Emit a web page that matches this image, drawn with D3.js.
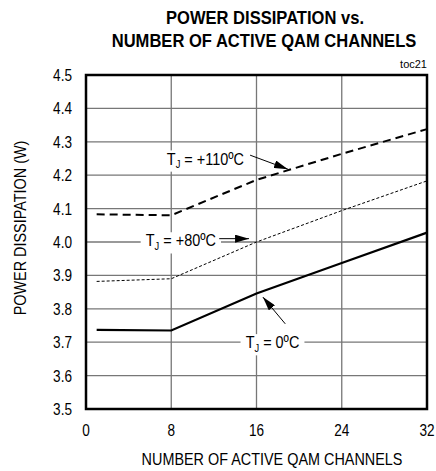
<!DOCTYPE html>
<html>
<head>
<meta charset="utf-8">
<script src="https://cdn.jsdelivr.net/npm/d3@7"></script>
<style>
  body { margin: 0; background: #fff; }
  text { font-family: "Liberation Sans", Arial, sans-serif; fill: #000; }
</style>
</head>
<body>
<div id="chart"></div>
<script>
// channel counts
const channels = [1, 8, 16, 24, 32];
const pd110 = [4.083, 4.08, 4.186, 4.264, 4.338];
const pd80 = [3.882, 3.89, 4.0, 4.094, 4.183];
const pd0 = [3.737, 3.735, 3.846, 3.937, 4.028];

const xTicks = [0, 8, 16, 24, 32];
const yTicks = [3.5, 3.6, 3.7, 3.8, 3.9, 4.0, 4.1, 4.2, 4.3, 4.4, 4.5];

const width = 436, height = 471;
const margin = {top: 75, right: 9, bottom: 62, left: 86};
const w = width - margin.left - margin.right;
const h = height - margin.top - margin.bottom;

const svg = d3.select("#chart").append("svg")
    .attr("width", width)
    .attr("height", height);

const g = svg.append("g")
    .attr("transform", `translate(${margin.left},${margin.top})`);

const x = d3.scaleLinear().domain([0, 32]).range([0, w]);
const y = d3.scaleLinear().domain([3.5, 4.5]).range([h, 0]);

// grid
g.selectAll(".hgrid").data(yTicks.slice(1, -1)).enter().append("line")
    .attr("x1", 0).attr("x2", w)
    .attr("y1", d => y(d)).attr("y2", d => y(d))
    .attr("stroke", "#777").attr("stroke-width", 1.3);
g.selectAll(".vgrid").data(xTicks.slice(1, -1)).enter().append("line")
    .attr("y1", 0).attr("y2", h)
    .attr("x1", d => x(d)).attr("x2", d => x(d))
    .attr("stroke", "#777").attr("stroke-width", 1.3);

// tick labels (narrow look: squeeze horizontally)
g.selectAll(".ylab").data(yTicks).enter().append("text")
    .attr("transform", d => `translate(-14,${y(d) + 6}) scale(0.85,1)`)
    .attr("text-anchor", "end")
    .style("font-size", "16px")
    .text(d => d.toFixed(1));
g.selectAll(".xlab").data(xTicks).enter().append("text")
    .attr("transform", d => `translate(${x(d)},${h + 27}) scale(0.85,1)`)
    .attr("text-anchor", "middle")
    .style("font-size", "16px")
    .text(d => d);

// labels with white boxes (drawn before curves)
function label(cx, cy, main) {
    const lg = g.append("g")
        .attr("transform", `translate(${cx},${cy}) scale(0.85,1)`);
    const t = lg.append("text")
        .attr("x", 0).attr("y", 6)
        .attr("text-anchor", "middle")
        .style("font-size", "17px");
    t.append("tspan").text("T");
    t.append("tspan").attr("dy", 4).style("font-size", "11px").text("J");
    t.append("tspan").attr("dy", -4).text(" = " + main);
    const bb = t.node().getBBox();
    lg.insert("rect", "text")
        .attr("x", bb.x - 6).attr("y", bb.y + 1)
        .attr("width", bb.width + 12).attr("height", bb.height)
        .attr("fill", "#fff");
}

label(x(11.2), y(4.25), "+110ºC");
label(x(8.9), y(4.005), "+80ºC");
label(x(17.5), y(3.7), "0ºC");

// arrow head
svg.append("defs").append("marker")
    .attr("id", "ah").attr("viewBox", "0 0 14 8")
    .attr("refX", 14).attr("refY", 4)
    .attr("markerWidth", 14).attr("markerHeight", 8)
    .attr("markerUnits", "userSpaceOnUse")
    .attr("orient", "auto")
    .append("path").attr("d", "M0,0L14,4L0,8Z").attr("fill", "#000");

function arrow(x1, y1, x2, y2) {
    g.append("line")
        .attr("x1", x1).attr("y1", y1).attr("x2", x2).attr("y2", y2)
        .attr("stroke", "#000").attr("stroke-width", 1)
        .attr("marker-end", "url(#ah)");
}
arrow(x(15.4), y(4.26), x(18.95), y(4.218));
arrow(x(12.5), y(4.01), x(15.3), y(4.01));
arrow(x(18.7), y(3.755), x(16.6), y(3.835));

// curves
const line = d3.line()
    .x((d, i) => x(channels[i]))
    .y(d => y(d));

g.append("path").datum(pd110)
    .attr("d", line).attr("fill", "none")
    .attr("stroke", "#000").attr("stroke-width", 2)
    .attr("stroke-dasharray", "8,5");
g.append("path").datum(pd80)
    .attr("d", line).attr("fill", "none")
    .attr("stroke", "#000").attr("stroke-width", 1)
    .attr("stroke-dasharray", "3,2");
g.append("path").datum(pd0)
    .attr("d", line).attr("fill", "none")
    .attr("stroke", "#000").attr("stroke-width", 2.2);

// frame
g.append("rect")
    .attr("x", 0).attr("y", 0).attr("width", w).attr("height", h)
    .attr("fill", "none").attr("stroke", "#000").attr("stroke-width", 2.5);

// titles
svg.append("text")
    .attr("transform", "translate(265,24) scale(0.92,1)")
    .attr("text-anchor", "middle")
    .style("font-size", "18px").style("font-weight", "bold")
    .text("POWER DISSIPATION vs.");
svg.append("text")
    .attr("transform", "translate(264,47) scale(0.92,1)")
    .attr("text-anchor", "middle")
    .style("font-size", "18px").style("font-weight", "bold")
    .text("NUMBER OF ACTIVE QAM CHANNELS");
svg.append("text")
    .attr("x", margin.left + w).attr("y", 68)
    .attr("text-anchor", "end")
    .style("font-size", "11px")
    .text("toc21");
svg.append("text")
    .attr("transform", "translate(272,465) scale(0.9,1)")
    .attr("text-anchor", "middle")
    .style("font-size", "16px")
    .text("NUMBER OF ACTIVE QAM CHANNELS");
svg.append("text")
    .attr("transform", "translate(26,228) rotate(-90) scale(0.9,1)")
    .attr("text-anchor", "middle")
    .style("font-size", "16px")
    .text("POWER DISSIPATION (W)");
</script>
</body>
</html>
